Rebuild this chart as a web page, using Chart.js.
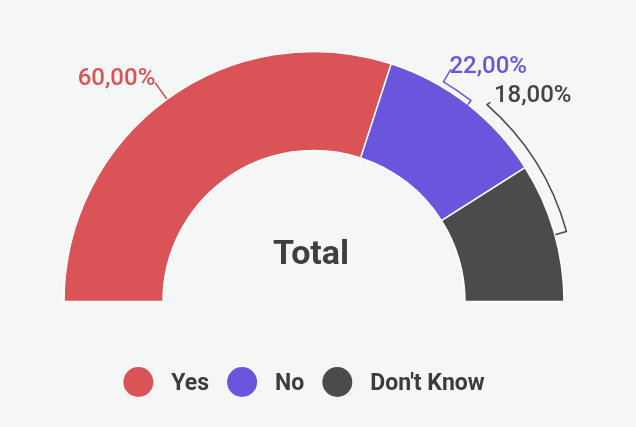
<!DOCTYPE html>
<html>
<head>
<meta charset="utf-8">
<script src="https://cdn.jsdelivr.net/npm/chart.js@4"></script>
<style>
  html, body { margin: 0; padding: 0; background: #f5f6f6; }
  canvas { display: block; }
</style>
</head>
<body>
<canvas id="c" width="636" height="427"></canvas>
<script>
const categories = ['Yes', 'No', "Don't Know"];
const values = [60, 22, 18];
const valueLabels = ['60,00%', '22,00%', '18,00%'];
const colors = ['#da5357', '#6a55dd', '#4b4b4b'];
const centerTitle = 'Total';

const FONT = 'Roboto, "Open Sans", sans-serif';

const overlay = {
  id: 'overlay',
  afterDraw(chart) {
    const ctx = chart.ctx;
    const meta = chart.getDatasetMeta(0);
    const a0 = meta.data[0];
    const cx = a0.x, cy = a0.y, R = a0.outerRadius;
    const pt = (deg, r) => {
      const t = deg * Math.PI / 180;
      return { x: cx + Math.cos(t) * r, y: cy + Math.sin(t) * r };
    };
    ctx.save();
    ctx.lineWidth = 1.5;
    ctx.lineCap = 'round';
    ctx.lineJoin = 'round';

    // Label 0: radial leader line at slice middle
    const mid = (a0.startAngle + a0.endAngle) / 2;
    const p1 = { x: cx + Math.cos(mid) * (R + 1), y: cy + Math.sin(mid) * (R + 1) };
    const p2 = { x: cx + Math.cos(mid) * (R + 20), y: cy + Math.sin(mid) * (R + 20) };
    ctx.strokeStyle = colors[0];
    ctx.beginPath(); ctx.moveTo(p1.x, p1.y); ctx.lineTo(p2.x, p2.y); ctx.stroke();
    ctx.fillStyle = colors[0];
    ctx.font = '500 24px ' + FONT;
    ctx.textAlign = 'right';
    ctx.textBaseline = 'alphabetic';
    ctx.fillText(valueLabels[0], p2.x, p2.y + 2);

    // Brackets for the other labels
    const brackets = [
      { i: 1, from: -59.5, to: -52, off: 5, tick: 5, ptr: [7, -12], txt: [-1, 3] },
      { i: 2, from: -48.7, to: -15.5, off: 12, tick: 11, ptr: [3, -2], txt: [4, -1] }
    ];
    brackets.forEach(b => {
      const col = colors[b.i];
      ctx.strokeStyle = col;
      const s = pt(b.from, R + b.off);
      const ei = pt(b.to, R + b.off - b.tick);
      const pe = { x: s.x + b.ptr[0], y: s.y + b.ptr[1] };
      ctx.beginPath();
      ctx.moveTo(pe.x, pe.y);
      ctx.lineTo(s.x, s.y);
      ctx.arc(cx, cy, R + b.off, b.from * Math.PI / 180, b.to * Math.PI / 180);
      ctx.lineTo(ei.x, ei.y);
      ctx.stroke();
      ctx.fillStyle = b.i === 2 ? '#444444' : col;
      ctx.textAlign = 'left';
      ctx.fillText(valueLabels[b.i], pe.x + b.txt[0], pe.y + b.txt[1]);
    });

    // Center title
    ctx.fillStyle = '#3f3f3f';
    ctx.font = 'bold 34px ' + FONT;
    ctx.textAlign = 'center';
    ctx.fillText(centerTitle, cx - 3, cy - 38);

    // Legend
    ctx.font = 'bold 23px ' + FONT;
    const dia = 30, gapIn = 18, gapOut = 18;
    const widths = categories.map(t => ctx.measureText(t).width);
    let total = 0;
    widths.forEach((w, k) => { total += dia + gapIn + w + (k < widths.length - 1 ? gapOut : 0); });
    let x = chart.width / 2 - 14 - total / 2;
    const ly = 382;
    categories.forEach((t, k) => {
      ctx.fillStyle = colors[k];
      ctx.beginPath();
      ctx.arc(x + dia / 2, ly, dia / 2, 0, Math.PI * 2);
      ctx.fill();
      ctx.fillStyle = '#3c3c3c';
      ctx.textAlign = 'left';
      ctx.fillText(t, x + dia + gapIn, ly + 8);
      x += dia + gapIn + widths[k] + gapOut;
    });
    ctx.restore();
  }
};

new Chart(document.getElementById('c'), {
  type: 'doughnut',
  data: {
    labels: categories,
    datasets: [{
      data: values,
      backgroundColor: colors,
      borderColor: '#ffffff',
      borderWidth: 1.5,
      hoverOffset: 0
    }]
  },
  options: {
    responsive: false,
    animation: false,
    rotation: -90,
    circumference: 180,
    radius: 250,
    cutout: '60.4%',
    layout: { padding: { left: 0, right: 8, top: 22, bottom: 96 } },
    plugins: {
      legend: { display: false },
      tooltip: { enabled: false }
    }
  },
  plugins: [overlay]
});
</script>
</body>
</html>
